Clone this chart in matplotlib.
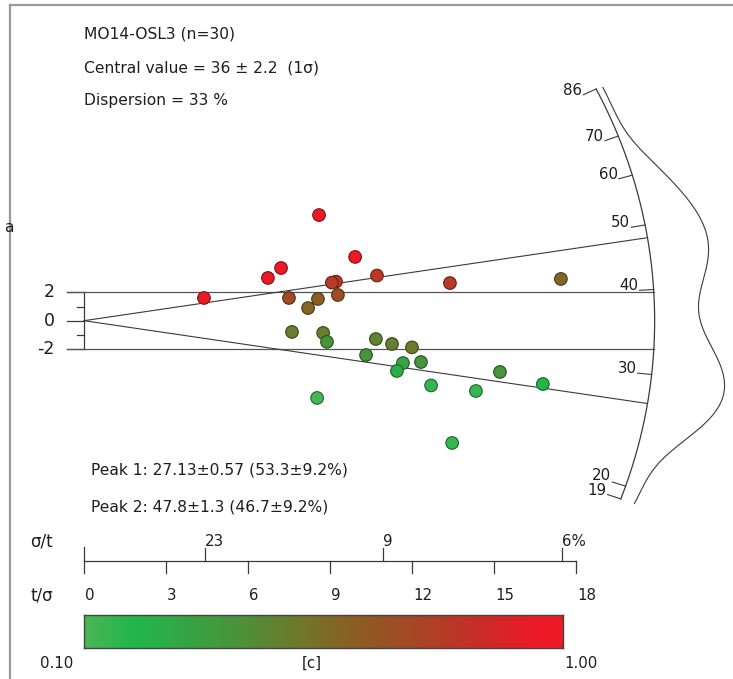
import numpy as np
import matplotlib.pyplot as plt
from matplotlib.colors import LinearSegmentedColormap, Normalize
from matplotlib.lines import Line2D

plt.rcParams['font.family'] = ['DejaVu Sans', 'Noto Sans']

# grain data
precision = np.array([8.60, 9.92, 7.21, 6.73, 10.72, 9.22, 9.07, 4.39, 7.50, 8.56,
                      9.29, 8.20, 13.39, 17.45, 7.61, 8.75, 8.89, 10.68, 11.27, 12.00,
                      10.32, 11.67, 12.33, 11.45, 15.22, 12.70, 14.34, 16.79, 8.53, 13.47])
z_score = np.array([7.44, 4.49, 3.71, 3.01, 3.18, 2.75, 2.68, 1.60, 1.60, 1.53,
                    1.81, 0.89, 2.65, 2.94, -0.79, -0.86, -1.49, -1.29, -1.64, -1.88,
                    -2.42, -2.98, -2.91, -3.54, -3.61, -4.56, -4.95, -4.46, -5.44, -8.61])
c_value = np.array([1.00, 0.95, 0.95, 0.95, 0.80, 0.82, 0.78, 0.95, 0.70, 0.60,
                    0.68, 0.58, 0.78, 0.58, 0.48, 0.48, 0.38, 0.45, 0.47, 0.50,
                    0.38, 0.30, 0.38, 0.25, 0.38, 0.15, 0.15, 0.20, 0.12, 0.15])

central = 36.0
peaks = [27.13, 47.8]
arc_ticks = [19, 20, 30, 40, 50, 60, 70, 86]
tsig_ticks = [0, 3, 6, 9, 12, 15, 18]
sigt_err = [0.226, 0.0913, 0.0572]
sigt_labels = ['23', '9', '6%']

# figure layout (pixels of the 733x679 image)
W, H = 733, 679
PX, PY = 27.33, 14.2          # pixels per unit, x and y
X0, Y0 = 84, 320.7            # origin of the radial plot
A, B = 20.88, 37.0            # semi axes of the age arc
line_col = '#3a3a3a'
txt_col = '#1e1e1e'
fs = 11.2
fs_tick = 10.8

cmap = LinearSegmentedColormap.from_list('c', [
    (0.00, (0.30, 0.71, 0.33)),
    (0.10, (0.13, 0.72, 0.30)),
    (0.30, (0.27, 0.59, 0.24)),
    (0.45, (0.44, 0.47, 0.17)),
    (0.55, (0.53, 0.38, 0.14)),
    (0.70, (0.66, 0.27, 0.15)),
    (0.85, (0.82, 0.16, 0.16)),
    (0.95, (0.93, 0.10, 0.15)),
    (1.00, (0.93, 0.10, 0.14))])
norm = Normalize(0.1, 1.0)

fig = plt.figure(figsize=(W / 100, H / 100), dpi=100)
ax = fig.add_axes([0, 0, 1, 1])
ax.set_xlim(-X0 / PX, (W - X0) / PX)
ax.set_ylim((Y0 - H) / PY, Y0 / PY)
ax.axis('off')


def fpos(x, y):
    return x / W, 1 - y / H


def arc_xy(t):
    s = np.log(np.asarray(t, float) / central)
    x = 1 / np.sqrt(1 / A**2 + s**2 / B**2)
    return x, s * x


# page frame
fig.add_artist(Line2D([10 / W, 10 / W], [0, 1 - 5 / H], color='#9a9a9a', lw=1.6))
fig.add_artist(Line2D([10 / W, 1], [1 - 5 / H, 1 - 5 / H], color='#9a9a9a', lw=1.6))
fig.text(*fpos(4, 228), 'a', fontsize=fs, color=txt_col, va='center')

# header text
fig.text(*fpos(84, 34), 'MO14-OSL3 (n=30)', fontsize=fs, color=txt_col, va='center')
fig.text(*fpos(84, 68), 'Central value = 36 ± 2.2  (1σ)', fontsize=fs, color=txt_col, va='center')
fig.text(*fpos(84, 101), 'Dispersion = 33 %', fontsize=fs, color=txt_col, va='center')
fig.text(*fpos(91, 470), 'Peak 1: 27.13±0.57 (53.3±9.2%)', fontsize=fs, color=txt_col, va='center')
fig.text(*fpos(91, 507), 'Peak 2: 47.8±1.3 (46.7±9.2%)', fontsize=fs, color=txt_col, va='center')

# standardised estimate axis and 2-sigma band
ax.plot([0, 0], [-2, 2], color=line_col, lw=0.9)
for v in [-2, 0, 2]:
    ax.plot([-17 / PX, 0], [v, v], color=line_col, lw=0.9)
    ax.text(-29 / PX, v, f'{v}', ha='right', va='center', fontsize=12.5, color=txt_col)
for v in [-1, 1]:
    ax.plot([-7 / PX, 0], [v, v], color=line_col, lw=0.9)
for v in [-2, 2]:
    xe = A * np.sqrt(1 - (v / B)**2)
    ax.plot([-17 / PX, xe], [v, v], color='#555555', lw=0.9)

# lines through the peaks
for p in peaks:
    xe, ye = arc_xy(p)
    ax.plot([0, xe], [0, ye], color=line_col, lw=0.8)

# age arc
ages_line = np.exp(np.linspace(np.log(min(arc_ticks)), np.log(max(arc_ticks)), 300))
ax_, ay_ = arc_xy(ages_line)
ax.plot(ax_, ay_, color=line_col, lw=0.9)
prev_y = None
for t in sorted(arc_ticks):
    xe, ye = arc_xy(t)
    ux, uy = xe * PX, ye * PY
    r = np.hypot(ux, uy)
    xi, yi = xe - 14 * ux / r / PX, ye - 14 * uy / r / PY
    ax.plot([xi, xe], [yi, ye], color=line_col, lw=0.8)
    ly = yi
    if prev_y is not None and (ly - prev_y) * PY < 15:
        ly = prev_y + 15 / PY
    prev_y = ly
    ax.text(xi - 1 / PX, ly, f'{t}', ha='right', va='baseline',
            fontsize=fs_tick, color=txt_col)

# kernel density along the arc
ages = central * np.exp(z_score / precision)
la = np.log(ages)
grid = np.linspace(la.min(), la.max(), 300)
h = 0.13
dens = np.exp(-0.5 * ((grid[:, None] - la[None, :]) / h)**2).sum(axis=1)
off = 74 * dens / dens.max()
kx, ky = arc_xy(np.exp(grid))
rpx = np.hypot(kx * PX, ky * PY)
ax.plot(kx * (1 + off / rpx), ky * (1 + off / rpx), color=line_col, lw=0.8)

# grains
cols = cmap(norm(c_value))
edge = cols.copy()
edge[:, :3] *= 0.55
ax.scatter(precision, z_score, s=82, c=cols, edgecolors=edge, linewidths=0.8, zorder=3)

# precision axis
yb = (Y0 - 560.7) / PY
ax.plot([0, 18], [yb, yb], color=line_col, lw=0.9)
ax.plot([0, 0], [yb, yb + 13.7 / PY], color=line_col, lw=0.9)
for v in tsig_ticks:
    ax.plot([v, v], [yb, yb - 12 / PY], color=line_col, lw=0.9)
    ax.text(v + 1 / PX, (Y0 - 595) / PY, f'{v}', ha='left', va='center', fontsize=fs_tick, color=txt_col)
for e, lab in zip(sigt_err, sigt_labels):
    ax.plot([1 / e, 1 / e], [yb, yb + 12.7 / PY], color=line_col, lw=0.9)
    ax.text(1 / e, (Y0 - 542) / PY, lab, ha='left', va='center', fontsize=fs_tick, color=txt_col)
fig.text(*fpos(30, 542), 'σ/t', fontsize=fs + 0.8, color=txt_col, va='center')
fig.text(*fpos(30, 595), 't/σ', fontsize=fs + 0.8, color=txt_col, va='center')

# colour scale
cax = fig.add_axes([83.6 / W, 1 - 648 / H, 479.4 / W, 33 / H])
cax.imshow(np.linspace(0.1, 1.0, 256)[None, :], cmap=cmap, norm=norm,
           aspect='auto', extent=[0.1, 1.0, 0, 1])
cax.set_xticks([])
cax.set_yticks([])
for sp in cax.spines.values():
    sp.set_color('#444444')
    sp.set_linewidth(1.0)
fig.text(*fpos(57, 663), '0.10', fontsize=fs_tick, color=txt_col, ha='center', va='center')
fig.text(*fpos(312, 663), '[c]', fontsize=fs_tick, color=txt_col, ha='center', va='center')
fig.text(*fpos(581, 663), '1.00', fontsize=fs_tick, color=txt_col, ha='center', va='center')

fig.savefig('out.png', dpi=100)
